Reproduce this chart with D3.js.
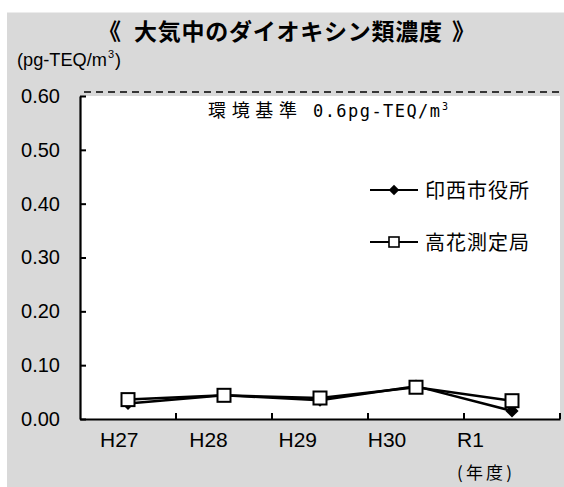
<!DOCTYPE html>
<html>
<head>
<meta charset="utf-8">
<script src="https://cdn.jsdelivr.net/npm/d3@7"></script>
<style>
  html, body { margin: 0; padding: 0; background: #ffffff; }
  svg { display: block; }
  .jp { font-family: "Noto Sans CJK JP", sans-serif; }
  .mono { font-family: "DejaVu Sans Mono", "Liberation Mono", monospace; }
  .num { font-family: "Liberation Sans", Arial, sans-serif; }
  .narrow { font-family: "Liberation Sans Narrow", "Arial Narrow", "Liberation Sans", sans-serif; }
</style>
</head>
<body>
<script>
// 年度
const years = ["H27", "H28", "H29", "H30", "R1"];
// 印西市役所 (pg-TEQ/m3)
const inzaiCityHall = [0.029, 0.044, 0.035, 0.061, 0.015];
// 高花測定局 (pg-TEQ/m3)
const takahanaStation = [0.036, 0.044, 0.039, 0.059, 0.034];
// 縦軸目盛
const yTicks = [0.0, 0.1, 0.2, 0.3, 0.4, 0.5, 0.6];
// 環境基準
const standardValue = 0.6;

const W = 564, H = 487;
const svg = d3.select("body").append("svg").attr("width", W).attr("height", H);

// 背景
svg.append("rect").attr("x", 7).attr("y", 12.5).attr("width", W - 7).attr("height", H - 12.5)
  .attr("fill", "#d9d9d9");

const plot = { left: 80, right: 560, top: 96, bottom: 419 };

const x = d3.scaleBand().domain(years).range([plot.left, plot.right]);
const y = d3.scaleLinear().domain([0, 0.6]).range([plot.bottom, plot.top]);
// 項目ラベルの配置 (左揃え)
const xLabel = d3.scalePoint().domain(years).range([100, 457]);

// プロットエリア
svg.append("rect")
  .attr("x", plot.left).attr("y", plot.top)
  .attr("width", plot.right - plot.left).attr("height", plot.bottom - plot.top)
  .attr("fill", "#ffffff");

// タイトル
const title = svg.append("g").attr("class", "jp")
  .attr("font-size", 23).attr("font-weight", "bold");
title.append("text").attr("x", 98).attr("y", 40).text("《");
title.append("text").attr("x", 134).attr("y", 40)
  .attr("textLength", 308).attr("lengthAdjust", "spacing")
  .text("大気中のダイオキシン類濃度");
title.append("text").attr("x", 452).attr("y", 40).text("》");

// 単位 (pg-TEQ/m³)
const unit = svg.append("g").attr("class", "num");
unit.append("text").attr("x", 17).attr("y", 66).attr("font-size", 18)
  .attr("textLength", 90).attr("lengthAdjust", "spacingAndGlyphs").text("(pg-TEQ/m");
unit.append("text").attr("x", 108).attr("y", 58).attr("font-size", 11).text("3");
unit.append("text").attr("x", 115).attr("y", 66).attr("font-size", 18).text(")");

// 環境基準線
svg.append("line")
  .attr("x1", plot.left + 4).attr("x2", plot.right + 4)
  .attr("y1", y(standardValue)).attr("y2", y(standardValue))
  .attr("transform", "translate(0,-4)")
  .attr("stroke", "#000").attr("stroke-width", 1.6)
  .attr("stroke-dasharray", "7,5");

const std = svg.append("g");
std.append("text").attr("class", "jp").attr("font-size", 18)
  .attr("x", 208).attr("y", 117)
  .attr("textLength", 89).attr("lengthAdjust", "spacing").text("環境基準");
std.append("text").attr("class", "mono").attr("font-size", 17)
  .attr("x", 313).attr("y", 117)
  .attr("textLength", 127).attr("lengthAdjust", "spacing").text("0.6pg-TEQ/m");
std.append("text").attr("class", "mono").attr("font-size", 10)
  .attr("x", 442).attr("y", 110).text("3");

// Y軸
const yAxis = d3.axisLeft(y).tickValues(yTicks).tickFormat(d3.format(".2f"))
  .tickSizeInner(-6).tickSizeOuter(0).tickPadding(20);
const gy = svg.append("g").attr("transform", `translate(${plot.left},0)`).call(yAxis);
gy.select(".domain").attr("stroke", "#000").attr("stroke-width", 2.2);
gy.selectAll(".tick line").attr("stroke", "#000").attr("stroke-width", 2);
gy.selectAll(".tick text").attr("class", "num").attr("font-size", 20).attr("fill", "#000");

// X軸
const gx = svg.append("g").attr("transform", `translate(0,${plot.bottom})`)
  .call(d3.axisBottom(x).tickSize(0).tickFormat(""));
gx.select(".domain").attr("stroke", "#000").attr("stroke-width", 2.2);

svg.append("g").selectAll("text").data(years).join("text")
  .attr("class", "narrow")
  .attr("x", d => xLabel(d)).attr("y", 447)
  .attr("font-size", 21).attr("fill", "#000")
  .text(d => d);

// 区切り目盛
svg.append("g").selectAll("line")
  .data(years)
  .join("line")
  .attr("x1", d => x(d) + x.step())
  .attr("x2", d => x(d) + x.step())
  .attr("y1", plot.bottom).attr("y2", plot.bottom - 6)
  .attr("stroke", "#000").attr("stroke-width", 2);

svg.append("text").attr("class", "jp")
  .attr("x", 457).attr("y", 479)
  .attr("textLength", 55).attr("lengthAdjust", "spacing")
  .attr("font-size", 17).text("(年度)");

const cx = d => x(d) + x.bandwidth() / 2;
const line = d3.line().x((d, i) => cx(years[i])).y(d => y(d));

// 高花測定局
svg.append("path").datum(takahanaStation)
  .attr("d", line).attr("fill", "none").attr("stroke", "#000").attr("stroke-width", 2.5);
// 印西市役所
svg.append("path").datum(inzaiCityHall)
  .attr("d", line).attr("fill", "none").attr("stroke", "#000").attr("stroke-width", 2.5);

const diamond = d3.symbol().type(d3.symbolDiamond2).size(110);
svg.append("g").selectAll("path")
  .data(inzaiCityHall).join("path")
  .attr("d", diamond)
  .attr("transform", (d, i) => `translate(${cx(years[i])},${y(d)})`)
  .attr("fill", "#000");

svg.append("g").selectAll("rect")
  .data(takahanaStation).join("rect")
  .attr("x", (d, i) => cx(years[i]) - 6.5).attr("y", d => y(d) - 6.5)
  .attr("width", 13).attr("height", 13)
  .attr("fill", "#fff").attr("stroke", "#000").attr("stroke-width", 2);

// 凡例
const legend = [
  { name: "印西市役所", marker: "diamond" },
  { name: "高花測定局", marker: "square" }
];
const lg = svg.append("g").selectAll("g").data(legend).join("g")
  .attr("transform", (d, i) => `translate(370,${190 + i * 52})`);
lg.append("line").attr("x1", 0).attr("x2", 48).attr("y1", 0).attr("y2", 0)
  .attr("stroke", "#000").attr("stroke-width", 2.2);
lg.filter(d => d.marker === "diamond").append("path")
  .attr("d", d3.symbol().type(d3.symbolDiamond2).size(70))
  .attr("transform", "translate(24,0)").attr("fill", "#000");
lg.filter(d => d.marker === "square").append("rect")
  .attr("x", 19).attr("y", -5).attr("width", 10).attr("height", 10)
  .attr("fill", "#fff").attr("stroke", "#000").attr("stroke-width", 1.6);
lg.append("text").attr("class", "jp")
  .attr("x", 55).attr("y", 8).attr("font-size", 20)
  .attr("textLength", 104).attr("lengthAdjust", "spacing")
  .text(d => d.name);
</script>
</body>
</html>
